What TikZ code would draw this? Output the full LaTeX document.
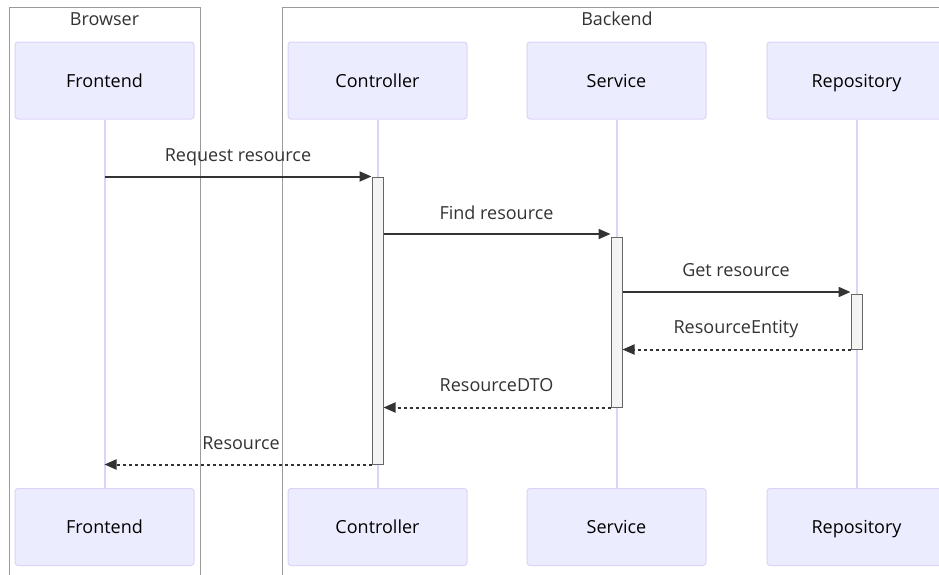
\documentclass[tikz,border=0pt]{standalone}
\usepackage{fontspec}
\setmainfont{Open Sans}
\usetikzlibrary{arrows.meta}
\definecolor{actorfill}{HTML}{ECECFF}
\definecolor{actorline}{HTML}{DCD3F7}
\definecolor{msgcol}{HTML}{333333}
\definecolor{groupline}{HTML}{9A9A9A}
\definecolor{actfill}{HTML}{F4F4F4}
\definecolor{actline}{HTML}{666666}
\tikzset{
  txt/.style={font=\fontsize{18}{21}\selectfont, text height=13pt, text depth=0pt},
  actor/.style={txt, draw=actorline, fill=actorfill, line width=1pt, rounded corners=3pt,
    minimum width=179pt, minimum height=77pt, inner sep=0pt, text=black},
  lifeline/.style={draw=actorline, line width=2pt},
  grouping/.style={draw=groupline, line width=1pt},
  grouplabel/.style={txt, text=msgcol, inner sep=0pt},
  activation/.style={draw=actline, fill=actfill, line width=1pt, minimum width=11pt, inner sep=0pt},
  msg/.style={draw=msgcol, line width=2pt, -{Triangle[length=12pt,width=10pt]}},
  reply/.style={msg, dash pattern=on 3pt off 3pt},
  msglabel/.style={txt, text=msgcol, inner sep=0pt},
}
\begin{document}
\begin{tikzpicture}[x=1pt, y=-1pt]
\clip (0,0) rectangle (939,574);
\fill[white] (0,0) rectangle (939,574);

% participant groups
\draw[grouping] (9,600) -- (9,7) -- (200,7) -- (200,600);
\draw[grouping] (282,600) -- (282,7) -- (960,7) -- (960,600);
\node[grouplabel] (gBrowser) at (104.5,19) {Browser};
\node[grouplabel] (gBackend) at (617,19) {Backend};

% participants, top and bottom
\node[actor] (feT) at (104.5,80.5) {Frontend};
\node[actor] (ctT) at (377.5,80.5) {Controller};
\node[actor] (svT) at (616.5,80.5) {Service};
\node[actor] (rpT) at (856.5,80.5) {Repository};
\node[actor] (feB) at (104.5,527) {Frontend};
\node[actor] (ctB) at (377.5,527) {Controller};
\node[actor] (svB) at (616.5,527) {Service};
\node[actor] (rpB) at (856.5,527) {Repository};

% lifelines
\draw[lifeline] (feT) -- (feB);
\draw[lifeline] (ctT) -- (ctB);
\draw[lifeline] (svT) -- (svB);
\draw[lifeline] (rpT) -- (rpB);

% activation bars
\node[activation, minimum height=287pt] (aC) at (377.5,320.5) {};
\node[activation, minimum height=170pt] (aS) at (616.5,322) {};
\node[activation, minimum height=55pt] (aR) at (856.5,321.5) {};

% calls
\draw[msg] (feT.south |- aC.north) -- (aC.north west);
\node[msglabel] (m1) at (238,155) {Request resource};
\coordinate (y2) at (0,234);
\draw[msg] (aC.east |- y2) -- (aS.west |- y2);
\node[msglabel] (m2) at (496.5,213) {Find resource};
\coordinate (y3) at (0,292);
\draw[msg] (aS.east |- y3) -- (aR.west |- y3);
\node[msglabel] (m3) at (736,270) {Get resource};

% replies
\draw[reply] (aR.south west) -- (aS.east |- aR.south west);
\node[msglabel] (m4) at (736,327) {ResourceEntity};
\draw[reply] (aS.south west) -- (aC.east |- aS.south west);
\node[msglabel] (m5) at (496.5,385) {ResourceDTO};
\draw[reply] (aC.south west) -- (feT.south |- aC.south west);
\node[msglabel] (m6) at (241,443) {Resource};
\end{tikzpicture}
\end{document}
